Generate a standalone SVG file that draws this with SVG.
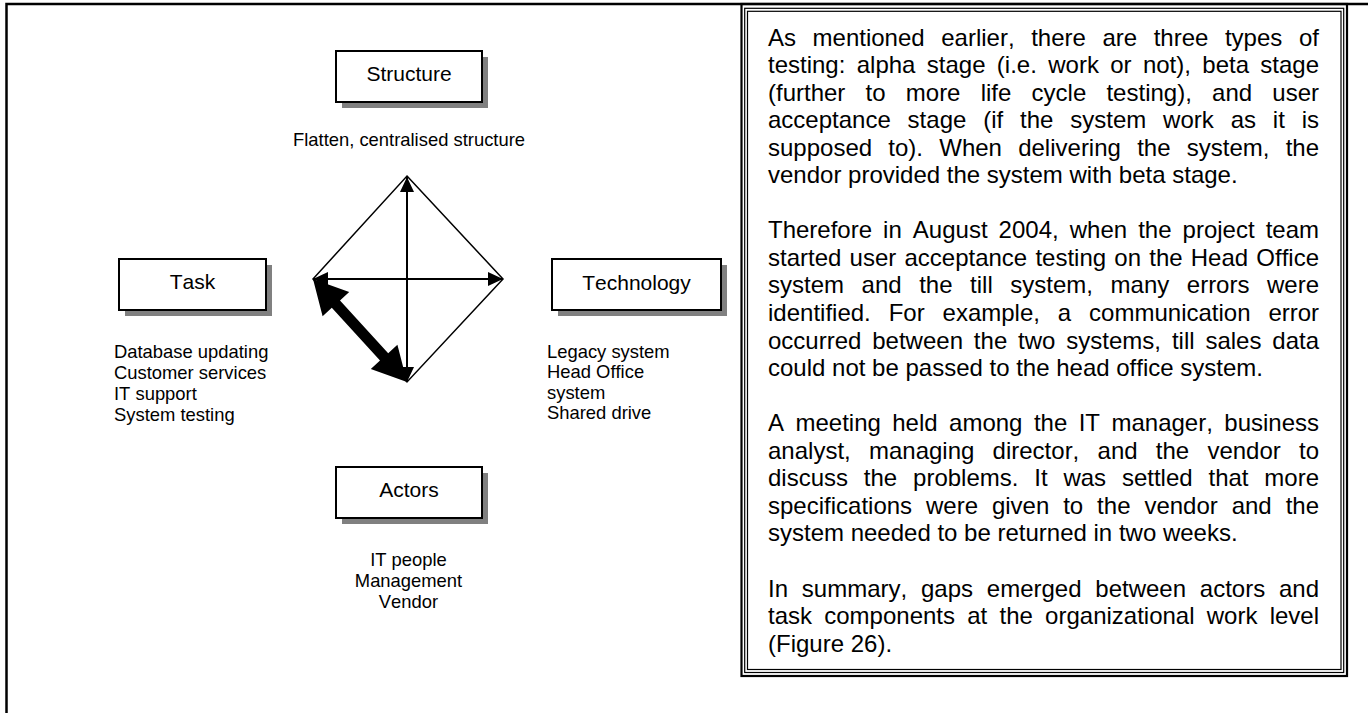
<svg xmlns="http://www.w3.org/2000/svg" width="1368" height="713" viewBox="0 0 1368 713">
<style>
  .box { fill: #ffffff; stroke: #000000; stroke-width: 2; }
  .shadow { fill: #808080; stroke: none; }
  .label { font-family: "Liberation Sans", Arial, sans-serif; font-size: 21px; fill: #000; text-anchor: middle; font-kerning: none; }
  .list { font-family: "Liberation Sans", Arial, sans-serif; font-size: 18.4px; fill: #000; font-kerning: none; }
  .body { font-family: "Liberation Sans", Arial, sans-serif; font-size: 24px; fill: #000; font-kerning: none; }
  .edge { fill: none; stroke: #000; stroke-width: 1.5; }
  .arrow { fill: none; stroke: #000; stroke-width: 2; marker-start: url(#head); marker-end: url(#head); }
  .frame { fill: none; stroke: #000; }
</style>
<defs>
  <marker id="head" markerUnits="userSpaceOnUse" markerWidth="16" markerHeight="16" viewBox="0 0 16 16" refX="15" refY="8" orient="auto-start-reverse">
    <path d="M0,1 L15,8 L0,15 Z" fill="#000"/>
  </marker>
</defs>
<rect x="0" y="0" width="1368" height="713" fill="#ffffff"/>
<path class="frame" d="M6.5,713 V4 H1368" stroke-width="2.5"/>

<g id="connectors">
  <polygon class="edge" points="407,176 503,279 407,382 313,279"/>
  <line class="arrow" x1="407" y1="382" x2="407" y2="177"/>
  <line class="arrow" x1="313" y1="279" x2="503" y2="279"/>
  <polygon fill="#000" points="313,279 322.6,316.2 331.8,307.8 380,360.6 370.8,369 407,382 397.4,344.8 388.2,353.2 340,300.4 349.2,292"/>
</g>

<g id="structure">
  <rect class="shadow" x="342" y="57" width="146" height="51"/>
  <rect class="box" x="336" y="51" width="146" height="51"/>
  <text class="label" x="409" y="81">Structure</text>
  <text class="list" x="409" y="146" text-anchor="middle">Flatten, centralised structure</text>
</g>

<g id="task">
  <rect class="shadow" x="125" y="265" width="147" height="51"/>
  <rect class="box" x="119" y="259" width="147" height="51"/>
  <text class="label" x="192.5" y="289">Task</text>
  <text class="list" x="114" y="358">Database updating</text>
  <text class="list" x="114" y="379">Customer services</text>
  <text class="list" x="114" y="400">IT support</text>
  <text class="list" x="114" y="421">System testing</text>
</g>

<g id="technology">
  <rect class="shadow" x="558" y="265" width="169" height="51"/>
  <rect class="box" x="552" y="259" width="169" height="51"/>
  <text class="label" x="636.5" y="290">Technology</text>
  <text class="list" x="547" y="357.5">Legacy system</text>
  <text class="list" x="547" y="378">Head Office</text>
  <text class="list" x="547" y="398.5">system</text>
  <text class="list" x="547" y="419">Shared drive</text>
</g>

<g id="actors">
  <rect class="shadow" x="342" y="473" width="146" height="51"/>
  <rect class="box" x="336" y="467" width="146" height="51"/>
  <text class="label" x="409" y="497">Actors</text>
  <text class="list" x="408.5" y="565.5" text-anchor="middle">IT people</text>
  <text class="list" x="408.5" y="586.5" text-anchor="middle">Management</text>
  <text class="list" x="408.5" y="607.5" text-anchor="middle">Vendor</text>
</g>

<g id="textbox">
  <rect class="frame" x="741.5" y="4" width="605.5" height="672" stroke-width="2.2"/>
  <rect class="frame" x="744.7" y="8.3" width="599" height="664.2" stroke-width="1.2"/>
  <rect class="frame" x="747.5" y="11.3" width="593.5" height="658.2" stroke-width="1.2"/>
  <text class="body" x="768" y="45.5" word-spacing="9.9">As mentioned earlier, there are three types of</text>
  <text class="body" x="768" y="73.05" word-spacing="4.68">testing: alpha stage (i.e. work or not), beta stage</text>
  <text class="body" x="768" y="100.6" word-spacing="13.54">(further to more life cycle testing), and user</text>
  <text class="body" x="768" y="128.15" word-spacing="10.19">acceptance stage (if the system work as it is</text>
  <text class="body" x="768" y="155.7" word-spacing="9.57">supposed to). When delivering the system, the</text>
  <text class="body" x="768" y="183.25">vendor provided the system with beta stage.</text>
  <text class="body" x="768" y="238.35" word-spacing="4.39">Therefore in August 2004, when the project team</text>
  <text class="body" x="768" y="265.9" word-spacing="1.53">started user acceptance testing on the Head Office</text>
  <text class="body" x="768" y="293.45" word-spacing="10.89">system and the till system, many errors were</text>
  <text class="body" x="768" y="321" word-spacing="11.24">identified. For example, a communication error</text>
  <text class="body" x="768" y="348.55" word-spacing="4.21">occurred between the two systems, till sales data</text>
  <text class="body" x="768" y="376.1">could not be passed to the head office system.</text>
  <text class="body" x="768" y="431.2" word-spacing="4.77">A meeting held among the IT manager, business</text>
  <text class="body" x="768" y="458.75" word-spacing="11.57">analyst, managing director, and the vendor to</text>
  <text class="body" x="768" y="486.3" word-spacing="9.16">discuss the problems. It was settled that more</text>
  <text class="body" x="768" y="513.85" word-spacing="7.24">specifications were given to the vendor and the</text>
  <text class="body" x="768" y="541.4">system needed to be returned in two weeks.</text>
  <text class="body" x="768" y="596.5" word-spacing="7.13">In summary, gaps emerged between actors and</text>
  <text class="body" x="768" y="624.05" word-spacing="5.57">task components at the organizational work level</text>
  <text class="body" x="768" y="651.6">(Figure 26).</text>
</g>
</svg>
